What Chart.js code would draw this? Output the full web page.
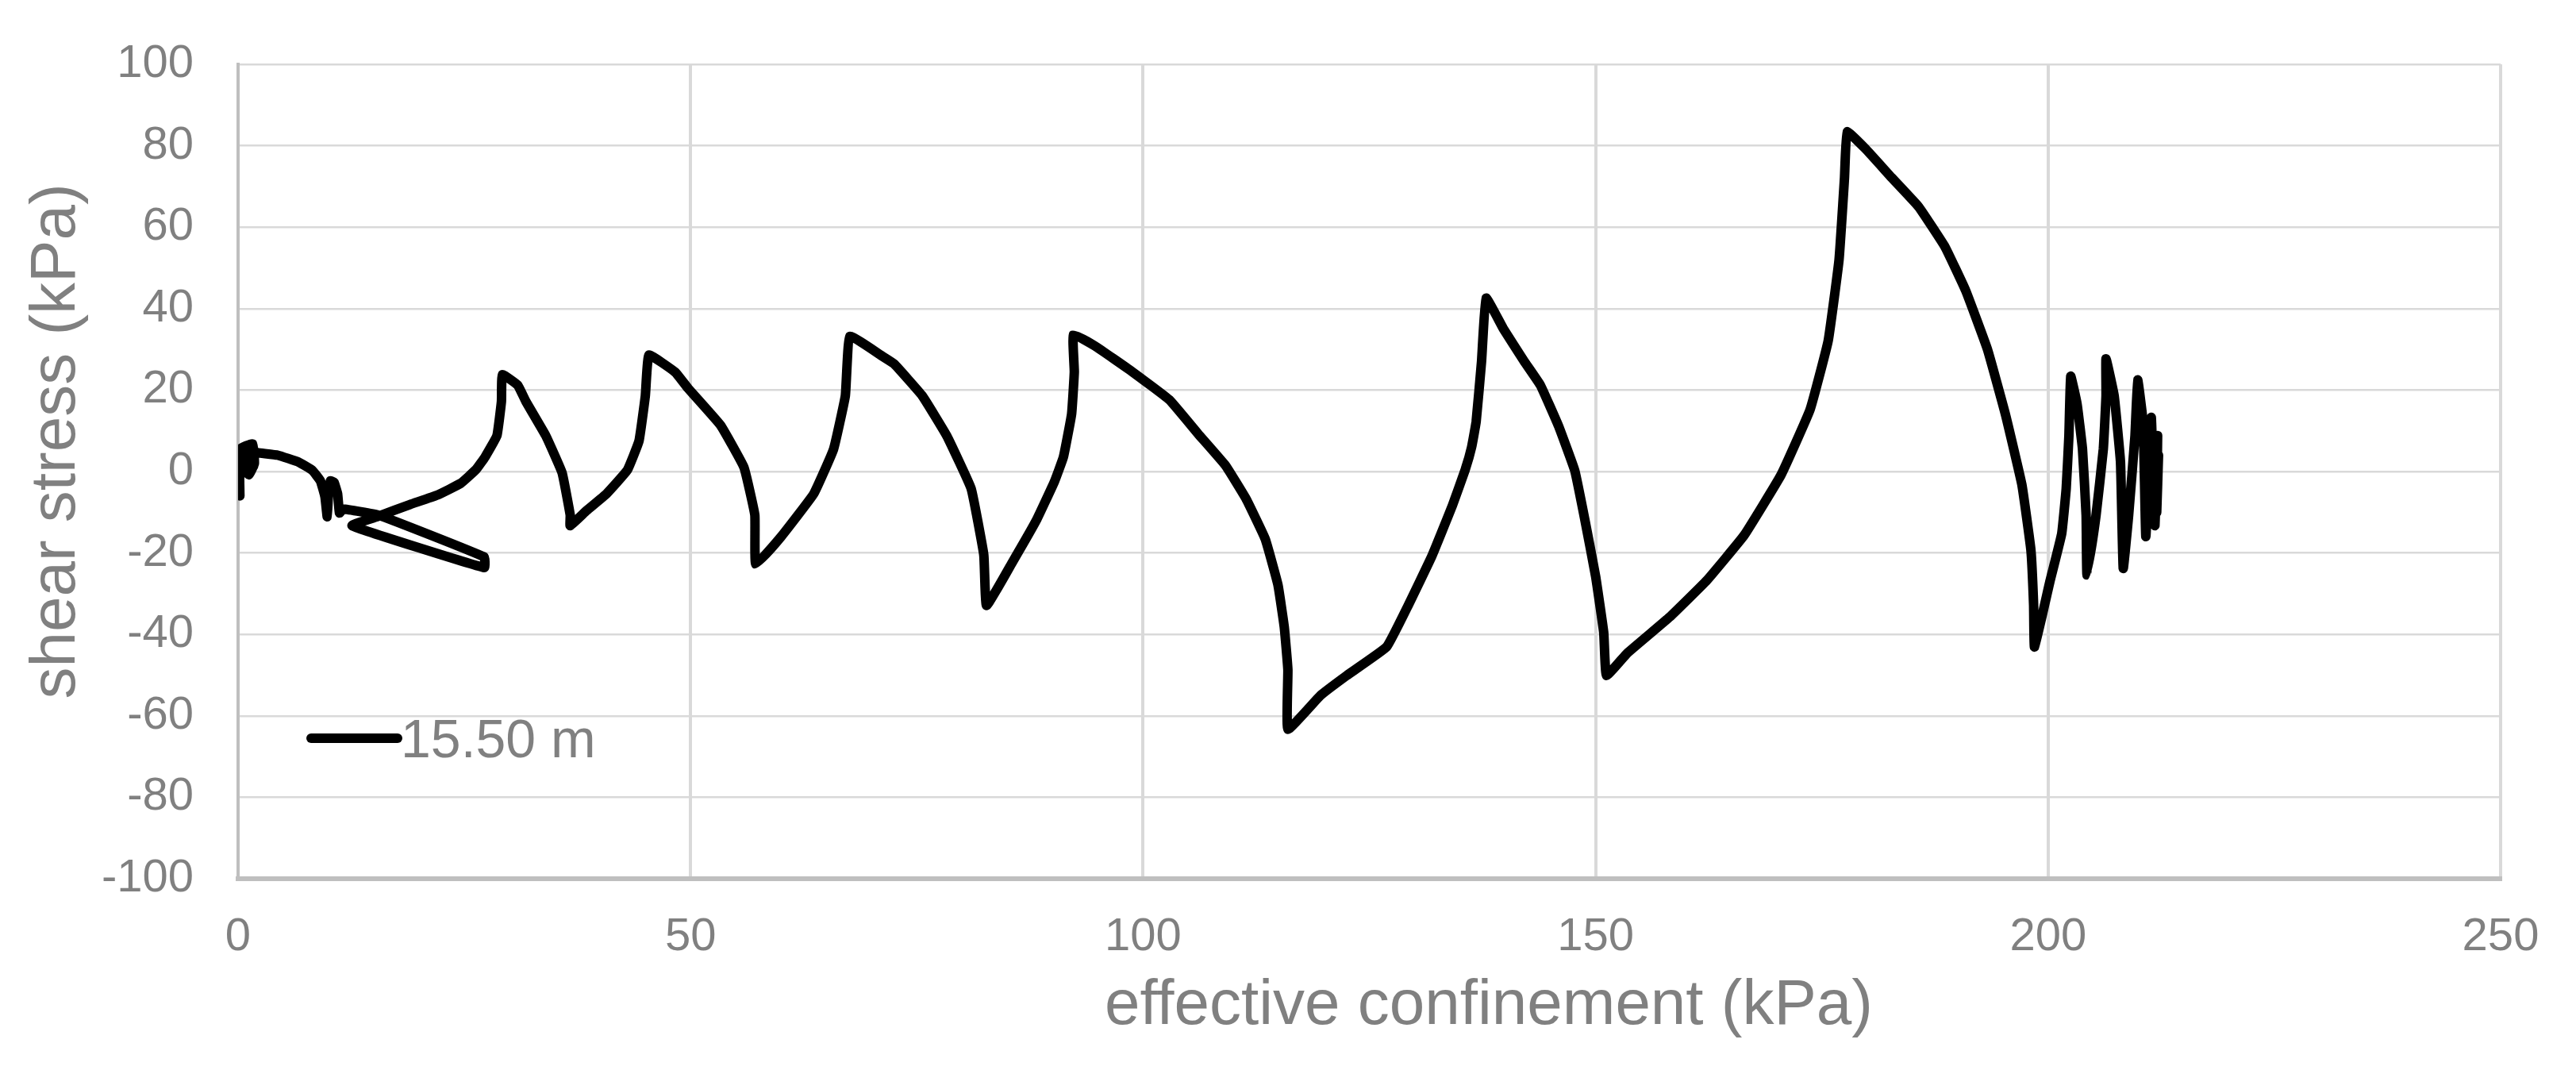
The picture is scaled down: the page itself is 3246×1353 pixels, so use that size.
<!DOCTYPE html>
<html>
<head>
<meta charset="utf-8">
<title>shear stress vs effective confinement</title>
<script src="https://cdn.jsdelivr.net/npm/chart.js@4.4.1/dist/chart.umd.min.js"></script>
<style>
  html, body { margin: 0; padding: 0; background: #fff; }
  #wrap { width: 3246px; height: 1353px; position: relative; }
</style>
</head>
<body>
<div id="wrap"><canvas id="grafico"></canvas></div>
<script>
// stress path (kPa)
const confinement = [
  0.2, 0.2, 1.6, 1.8, 1.2, 0.6, 0.5, 1.5, 1.7, 0.9, 0.7, 1.6,
  2.2, 4.4, 6.7, 8.2, 9.1, 9.6, 9.85, 10.0, 10.2, 10.6, 11.0, 11.2,
  11.6, 15.5, 27.2, 27.2, 12.6, 15.5, 19.0, 22.0, 24.6, 26.3, 27.3, 28.6,
  29.1, 29.2, 30.9, 31.8, 34.0, 35.8, 36.7, 36.7, 38.5, 40.7, 43.0, 44.3,
  45.0, 45.4, 48.3, 49.7, 53.3, 55.9, 57.1, 57.2, 60.0, 63.6, 65.8, 67.1,
  67.6, 71.2, 72.5, 75.6, 78.3, 81.0, 82.4, 82.7, 85.5, 88.2, 90.2, 91.2,
  92.1, 92.4, 92.3, 94.7, 98.8, 102.9, 106.1, 109.1, 111.4, 113.5, 114.9, 115.6,
  116.0, 116.0, 119.6, 122.5, 126.9, 129.2, 131.9, 134.2, 135.6, 136.3, 136.8, 137.4,
  137.9, 139.8, 142.1, 143.9, 145.9, 147.7, 148.8, 150.0, 150.9, 151.2, 153.5, 158.2,
  162.3, 166.4, 170.5, 173.7, 175.7, 176.9, 177.5, 177.8, 179.8, 182.7, 185.7, 188.6,
  190.9, 193.3, 195.3, 197.1, 198.1, 198.4, 198.5, 200.2, 201.5, 202.0, 202.3, 202.5,
  203.2, 203.8, 204.2, 204.3, 205.3, 206.1, 206.4, 206.4, 207.3, 208.0, 208.3, 208.9,
  209.6, 209.9, 210.5, 210.8, 211.4, 211.8, 212.1, 212.0, 212.2, 212.1
];
const shearStress = [
  -6.0, 5.5, 6.8, 2.0, -0.8, 0.8, 5.0, 6.2, 1.2, 0.0, 3.5, 5.0,
  4.6, 4.0, 2.3, 0.3, -2.3, -6.2, -11.1, -5.0, -2.3, -2.6, -5.5, -10.2,
  -9.2, -10.7, -21.0, -23.6, -13.3, -11.0, -8.1, -5.8, -2.9, 0.5, 3.6, 8.8,
  17.2, 23.8, 21.2, 17.2, 8.8, -0.3, -10.7, -13.3, -9.6, -5.5, 0.3, 7.5,
  18.6, 28.6, 24.4, 20.5, 11.4, 1.0, -10.7, -22.8, -16.0, -5.5, 5.5, 18.6,
  33.2, 28.3, 26.4, 18.6, 8.8, -4.2, -20.5, -32.9, -22.5, -12.0, -2.5, 3.6,
  14.1, 24.5, 33.6, 30.8, 24.5, 17.6, 9.2, 1.5, -6.8, -16.6, -27.8, -38.2,
  -48.7, -63.3, -55.0, -50.1, -43.1, -33.3, -20.8, -8.2, 0.5, 6.0, 12.2, 27.1,
  42.6, 35.1, 27.1, 21.2, 11.2, 0.2, -11.7, -25.7, -39.6, -50.1, -44.6, -35.7,
  -26.7, -15.7, -0.8, 15.2, 32.1, 52.0, 72.0, 83.4, 79.3, 72.2, 65.0, 55.2,
  44.4, 30.0, 13.9, -3.2, -19.3, -32.8, -43.1, -27.0, -15.3, -4.2, 8.8, 23.4,
  16.6, 5.5, -10.7, -25.4, -10.7, 5.5, 18.6, 27.7, 18.6, 2.3, -23.8, -10.7,
  8.8, 22.5, 12.0, -16.0, 13.3, -13.3, 8.8, -10.0, 4.0, -3.0
];

const xTicks = [0, 50, 100, 150, 200, 250];
const yTicks = [-100, -80, -60, -40, -20, 0, 20, 40, 60, 80, 100];

const seriesName = "15.50 m";
const xTitle = "effective confinement (kPa)";
const yTitle = "shear stress (kPa)";

const gris = "#808080";
const fuente = "'Liberation Sans', Arial, sans-serif";
Chart.defaults.font.family = fuente;

const puntos = confinement.map((x, i) => ({ x: x, y: shearStress[i] }));

// axis titles and the small legend inside the plot
const extras = {
  id: "extras",
  afterDraw(chart) {
    const ctx = chart.ctx;
    const area = chart.chartArea;

    ctx.save();
    ctx.fillStyle = gris;
    ctx.font = "80px " + fuente;
    ctx.textAlign = "center";
    ctx.textBaseline = "alphabetic";
    ctx.fillText(xTitle, 1876, 1290);
    ctx.translate(94, 556);
    ctx.rotate(-Math.PI / 2);
    ctx.fillText(yTitle, 0, 0);
    ctx.restore();

    const ds = chart.data.datasets[0];
    const ly = 930;
    ctx.save();
    ctx.strokeStyle = ds.borderColor;
    ctx.lineWidth = 12;
    ctx.lineCap = "round";
    ctx.beginPath();
    ctx.moveTo(area.left + 92, ly);
    ctx.lineTo(area.left + 201, ly);
    ctx.stroke();
    ctx.fillStyle = gris;
    ctx.font = "68px " + fuente;
    ctx.textAlign = "left";
    ctx.textBaseline = "alphabetic";
    ctx.fillText(ds.label, area.left + 205, ly + 24);
    ctx.restore();
  }
};

new Chart(document.getElementById("grafico"), {
  type: "scatter",
  data: {
    datasets: [{
      label: seriesName,
      data: puntos,
      showLine: true,
      borderColor: "#000000",
      backgroundColor: "#000000",
      borderWidth: 12,
      borderCapStyle: "round",
      borderJoinStyle: "round",
      pointRadius: 0,
      pointHoverRadius: 0,
      tension: 0.1,
      clip: 0
    }]
  },
  options: {
    responsive: true,
    maintainAspectRatio: false,
    animation: false,
    layout: {
      autoPadding: false,
      padding: { left: 0, top: 81, right: 95, bottom: 0 }
    },
    plugins: {
      legend: { display: false },
      tooltip: { enabled: false }
    },
    scales: {
      x: {
        type: "linear",
        min: xTicks[0],
        max: xTicks[xTicks.length - 1],
        afterBuildTicks: (s) => { s.ticks = xTicks.map(v => ({ value: v })); },
        afterFit: (s) => { s.height = 246; s.paddingLeft = 0; s.paddingRight = 0; },
        ticks: { color: gris, font: { size: 58 }, padding: 39, maxRotation: 0 },
        grid: { color: "#d9d9d9", lineWidth: 4, drawTicks: false },
        border: { color: "#bfbfbf", width: 6 }
      },
      y: {
        type: "linear",
        min: yTicks[0],
        max: yTicks[yTicks.length - 1],
        afterBuildTicks: (s) => { s.ticks = yTicks.map(v => ({ value: v })); },
        afterFit: (s) => { s.width = 300; s.paddingTop = 0; s.paddingBottom = 0; },
        ticks: { color: gris, font: { size: 58 }, padding: 56 },
        grid: { color: "#d9d9d9", lineWidth: 2.5, drawTicks: false },
        border: { color: "#bfbfbf", width: 4 }
      }
    }
  },
  plugins: [extras]
});
</script>
</body>
</html>
